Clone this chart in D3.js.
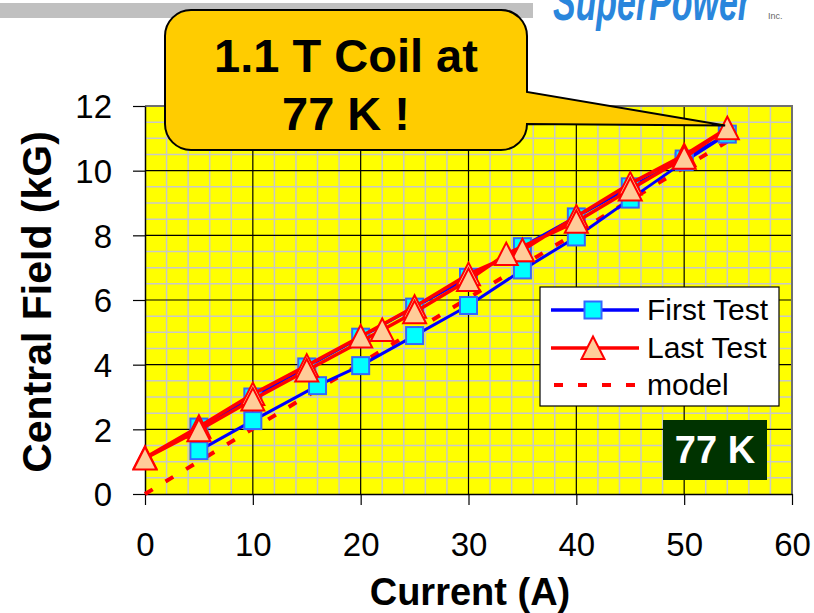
<!DOCTYPE html>
<html>
<head>
<meta charset="utf-8">
<script src="https://cdn.jsdelivr.net/npm/d3@7"></script>
<style>
  body { margin: 0; background: #fff; }
  text { font-family: "Liberation Sans", Arial, sans-serif; }
</style>
</head>
<body>
<div class="chart"></div>
<script>
// data
var xTicks = [0, 10, 20, 30, 40, 50, 60];
var yTicks = [0, 2, 4, 6, 8, 10, 12];

// first test: ramp up, then ramp down
var firstCurrent = [5, 10, 16, 20, 25, 30, 35, 40, 45, 50, 54, 50, 45, 40, 35, 30, 25, 20, 15, 10, 5];
var firstField = [1.34, 2.27, 3.35, 3.97, 4.90, 5.83, 6.93, 7.95, 9.12, 10.28, 11.13, 10.36, 9.50, 8.57, 7.65, 6.70, 5.78, 4.85, 3.93, 3.00, 2.07];

var lastCurrent = [0, 5, 10, 15, 20, 25, 30, 35, 40, 45, 50, 54, 50, 45, 40, 33.5, 30, 25, 22, 15, 10, 5, 0];
var lastField = [1.12, 2.08, 3.09, 3.97, 4.87, 5.79, 6.80, 7.54, 8.58, 9.60, 10.48, 11.31, 10.40, 9.42, 8.42, 7.42, 6.62, 5.62, 5.07, 3.82, 2.92, 1.97, 1.10];

var modelCurrent = [0, 10, 20, 30, 40, 50, 54];
var modelField = [0, 2.02, 4.04, 6.06, 8.08, 10.10, 10.90];

var seriesNames = ["First Test", "Last Test", "model"];

var width = 814, height = 613;
var x = d3.scaleLinear().domain([0, 60]).range([145, 792]);
var y = d3.scaleLinear().domain([0, 12]).range([494, 106]);

var svg = d3.select(".chart").append("svg")
    .attr("width", width)
    .attr("height", height);

// grey bar at the top
svg.append("rect")
    .attr("x", 0).attr("y", 3)
    .attr("width", 533).attr("height", 15)
    .attr("fill", "#c0c0c0");

// logo (cut off at the top edge)
svg.append("text")
    .attr("transform", "translate(553,20) scale(1,1.35)")
    .attr("font-size", 40)
    .attr("font-weight", "bold")
    .attr("font-style", "italic")
    .attr("textLength", 198)
    .attr("lengthAdjust", "spacingAndGlyphs")
    .attr("fill", "#2a86dc")
    .text("SuperPower");
svg.append("text")
    .attr("x", 768).attr("y", 19)
    .attr("font-size", 9)
    .attr("fill", "#666")
    .text("Inc.");

// plot background
svg.append("rect")
    .attr("x", x(0)).attr("y", y(12))
    .attr("width", x(60) - x(0)).attr("height", y(0) - y(12))
    .attr("fill", "#ffff00");

var grid = svg.append("g");
// minor grid
grid.selectAll("line.mx")
    .data(d3.range(2, 60, 2).filter(function (d) { return d % 10 !== 0; }))
    .join("line")
    .attr("x1", d => x(d)).attr("x2", d => x(d))
    .attr("y1", y(0)).attr("y2", y(12))
    .attr("stroke", "#c8c8c8").attr("stroke-width", 1.5);
grid.selectAll("line.my")
    .data(d3.range(0.5, 12, 0.5).filter(function (d) { return d % 2 !== 0; }))
    .join("line")
    .attr("x1", x(0)).attr("x2", x(60))
    .attr("y1", d => y(d)).attr("y2", d => y(d))
    .attr("stroke", "#c8c8c8").attr("stroke-width", 1.5);
// major grid
grid.append("g").selectAll("line")
    .data(xTicks.slice(1, -1))
    .join("line")
    .attr("x1", d => x(d)).attr("x2", d => x(d))
    .attr("y1", y(0)).attr("y2", y(12))
    .attr("stroke", "#000").attr("stroke-width", 1.2);
grid.append("g").selectAll("line")
    .data(yTicks.slice(1, -1))
    .join("line")
    .attr("x1", x(0)).attr("x2", x(60))
    .attr("y1", d => y(d)).attr("y2", d => y(d))
    .attr("stroke", "#000").attr("stroke-width", 1.2);

// plot border (top / right grey)
svg.append("path")
    .attr("d", `M${x(0)},${y(12)}H${x(60)}V${y(0)}`)
    .attr("fill", "none")
    .attr("stroke", "#707070").attr("stroke-width", 2);

// axes
var xAxis = svg.append("g").attr("transform", `translate(0,${y(0)})`)
    .call(d3.axisBottom(x).tickValues(xTicks).tickSize(11).tickPadding(28).tickSizeOuter(0));
var yAxis = svg.append("g").attr("transform", `translate(${x(0)},0)`)
    .call(d3.axisLeft(y).tickValues(yTicks).tickSize(12).tickPadding(21).tickSizeOuter(0));
[xAxis, yAxis].forEach(function (a) {
    a.select(".domain").attr("stroke", "#000").attr("stroke-width", 1.5);
    a.selectAll(".tick line").attr("stroke", "#000").attr("stroke-width", 1.2);
    a.selectAll(".tick text")
        .attr("font-family", "'Liberation Sans', Arial, sans-serif")
        .attr("font-size", 33)
        .attr("fill", "#000");
});
xAxis.selectAll(".tick text").attr("dy", "0.71em");
yAxis.selectAll(".tick text").attr("dy", "0.36em");

svg.append("text")
    .attr("x", 470).attr("y", 605)
    .attr("text-anchor", "middle")
    .attr("font-size", 38).attr("font-weight", "bold")
    .text("Current (A)");
svg.append("text")
    .attr("transform", "translate(51,302) rotate(-90)")
    .attr("text-anchor", "middle")
    .attr("font-size", 41).attr("font-weight", "bold")
    .text("Central Field (kG)");

function zip(a, b) { return a.map(function (v, i) { return [v, b[i]]; }); }
var line = d3.line().x(d => x(d[0])).y(d => y(d[1]));

var modelData = zip(modelCurrent, modelField);
var firstData = zip(firstCurrent, firstField);
var lastData = zip(lastCurrent, lastField);

var triPath = "M0,-11.5L11.5,11L-11.5,11Z";

// model
svg.append("path")
    .attr("d", line(modelData))
    .attr("fill", "none")
    .attr("stroke", "#ff0000").attr("stroke-width", 4)
    .attr("stroke-dasharray", "9,15");

// first test
svg.append("path")
    .attr("d", line(firstData))
    .attr("fill", "none")
    .attr("stroke", "#0000ff").attr("stroke-width", 3)
    .attr("stroke-linejoin", "round");
svg.append("g").selectAll("rect")
    .data(firstData)
    .join("rect")
    .attr("x", d => x(d[0]) - 8.5).attr("y", d => y(d[1]) - 8.5)
    .attr("width", 17).attr("height", 17)
    .attr("fill", "#00ffff")
    .attr("stroke", "#3366ff").attr("stroke-width", 2);

// last test
svg.append("path")
    .attr("d", line(lastData))
    .attr("fill", "none")
    .attr("stroke", "#ff0000").attr("stroke-width", 3.5)
    .attr("stroke-linejoin", "round");
svg.append("g").selectAll("path")
    .data(lastData)
    .join("path")
    .attr("transform", d => `translate(${x(d[0])},${y(d[1])})`)
    .attr("d", triPath)
    .attr("fill", "#ffcc99")
    .attr("stroke", "#ff0000").attr("stroke-width", 2);

// legend
var legend = svg.append("g").attr("transform", "translate(540,287)");
legend.append("rect")
    .attr("width", 239).attr("height", 119)
    .attr("fill", "#fff").attr("stroke", "#000").attr("stroke-width", 1.2);
var rowY = [23, 61, 98];
seriesNames.forEach(function (name, i) {
    var g = legend.append("g").attr("transform", `translate(0,${rowY[i]})`);
    var ln = g.append("line")
        .attr("x1", 11).attr("x2", 99)
        .attr("stroke", i === 0 ? "#0000ff" : "#ff0000")
        .attr("stroke-width", i === 2 ? 4 : 3.5);
    if (i === 2) ln.attr("stroke-dasharray", "9,15").attr("x1", 14);
    if (i === 0) {
        g.append("rect").attr("x", 44.5).attr("y", -8.5).attr("width", 17).attr("height", 17)
            .attr("fill", "#00ffff").attr("stroke", "#3366ff").attr("stroke-width", 2);
    } else if (i === 1) {
        g.append("path").attr("transform", "translate(53,0)").attr("d", triPath)
            .attr("fill", "#ffcc99").attr("stroke", "#ff0000").attr("stroke-width", 2);
    }
    g.append("text")
        .attr("x", 107).attr("y", 10)
        .attr("font-size", 30)
        .text(name);
});

// 77 K box
svg.append("rect")
    .attr("x", 663).attr("y", 420)
    .attr("width", 104).attr("height", 60)
    .attr("fill", "#003300");
svg.append("text")
    .attr("x", 715).attr("y", 463)
    .attr("text-anchor", "middle")
    .attr("font-size", 38).attr("font-weight", "bold")
    .attr("fill", "#fff")
    .text("77 K");

// callout pointing at the last point
var L = 165, T = 10, R = 527, B = 150, r = 26;
var tipX = x(53.8), tipY = y(11.4);
svg.append("path")
    .attr("d", `M${L + r},${T}H${R - r}A${r},${r} 0 0 1 ${R},${T + r}V92L${tipX},${tipY}L${R},${B - r}` +
        `A${r},${r} 0 0 1 ${R - r},${B}H${L + r}A${r},${r} 0 0 1 ${L},${B - r}V${T + r}A${r},${r} 0 0 1 ${L + r},${T}Z`)
    .attr("fill", "#ffcc00")
    .attr("stroke", "#000").attr("stroke-width", 2);
var callText = ["1.1 T Coil at", "77 K !"];
svg.append("g").selectAll("text")
    .data(callText)
    .join("text")
    .attr("x", 346)
    .attr("y", (d, i) => 72 + i * 58)
    .attr("text-anchor", "middle")
    .attr("font-size", 47).attr("font-weight", "bold")
    .text(d => d);
</script>
</body>
</html>
